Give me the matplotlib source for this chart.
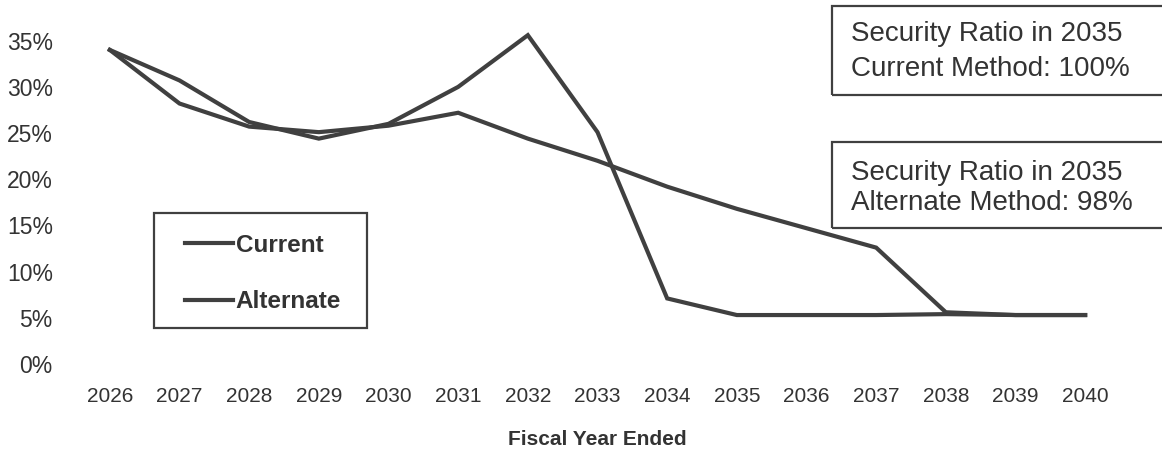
import matplotlib
matplotlib.use("Agg")
import matplotlib.pyplot as plt
from matplotlib.lines import Line2D
from matplotlib.patches import Rectangle
from matplotlib.ticker import FuncFormatter

years = list(range(2026, 2041))
current = [34.0, 30.7, 26.2, 24.4, 26.0, 30.0, 35.6, 25.1, 7.1, 5.3, 5.3, 5.3, 5.4, 5.3, 5.3]
alternate = [34.0, 28.2, 25.7, 25.1, 25.8, 27.2, 24.4, 22.0, 19.2, 16.8, 14.7, 12.6, 5.6, 5.3, 5.3]
y_ticks = [0, 5, 10, 15, 20, 25, 30, 35]
series_names = ["Current", "Alternate"]
note_current = ["Security Ratio in 2035", "Current Method: 100%"]
note_alternate = ["Security Ratio in 2035", "Alternate Method: 98%"]
x_title = "Fiscal Year Ended"

LINE = "#404040"
TEXT = "#333333"
FONT = ["Liberation Sans", "DejaVu Sans"]
W, H = 1162, 450

fig = plt.figure(figsize=(W / 100, H / 100), dpi=100)
fig.patch.set_facecolor("white")

# axes box in pixel terms: left 75, right 1120, bottom 364, top 13
ax = fig.add_axes([75 / W, (H - 364) / H, (1120 - 75) / W, (364 - 13) / H])
ax.set_xlim(2025.5, 2040.5)
ax.set_ylim(0, 38)
for s in ax.spines.values():
    s.set_visible(False)

ax.plot(years, current, color=LINE, lw=3.0, solid_joinstyle="miter", clip_on=False)
ax.plot(years, alternate, color=LINE, lw=3.0, solid_joinstyle="miter", clip_on=False)

ax.set_yticks(y_ticks)
ax.yaxis.set_major_formatter(FuncFormatter(lambda v, p: f"{v:.0f}%"))
ax.set_xticks(years)
ax.set_xticklabels([str(y) for y in years])
ax.tick_params(axis="y", length=0, pad=16, labelsize=16.5, labelcolor=TEXT)
ax.tick_params(axis="x", length=0, pad=16.5, labelsize=15, labelcolor=TEXT)
for lab in ax.get_yticklabels() + ax.get_xticklabels():
    lab.set_family(FONT)

ax.set_xlabel(x_title, fontsize=15, fontweight="bold", color=TEXT,
              family=FONT, labelpad=17)

# legend entries without a frame; the frame is drawn as its own rectangle
handles = [Line2D([0], [0], color=LINE, lw=3.0) for _ in series_names]
leg = ax.legend(handles, series_names, loc="upper left",
                bbox_to_anchor=(185 / W, (H - 234) / H), bbox_transform=fig.transFigure,
                frameon=False, borderaxespad=0, borderpad=0,
                prop={"family": FONT, "weight": "bold", "size": 17.5},
                handlelength=1.97, handletextpad=0.12, labelspacing=1.36)
for t in leg.get_texts():
    t.set_color(TEXT)
fig.patches.append(Rectangle((154 / W, (H - 328) / H), (367 - 154) / W, (328 - 213) / H,
                             transform=fig.transFigure, fill=False,
                             edgecolor=LINE, linewidth=1.6))


def note_box(x0, y0, x1, y1, lines, line_y):
    fig.patches.append(Rectangle((x0 / W, (H - y1) / H), (x1 - x0) / W, (y1 - y0) / H,
                                 transform=fig.transFigure, fill=False,
                                 edgecolor=LINE, linewidth=1.6))
    for txt, yy in zip(lines, line_y):
        fig.text(851 / W, (H - yy) / H, txt, fontsize=20, color=TEXT,
                 family=FONT, va="center", ha="left")


note_box(832, 6, 1175, 95, note_current, [34, 69])
note_box(832, 142, 1175, 228, note_alternate, [173, 203])

fig.savefig("out.png", dpi=100, facecolor="white")
